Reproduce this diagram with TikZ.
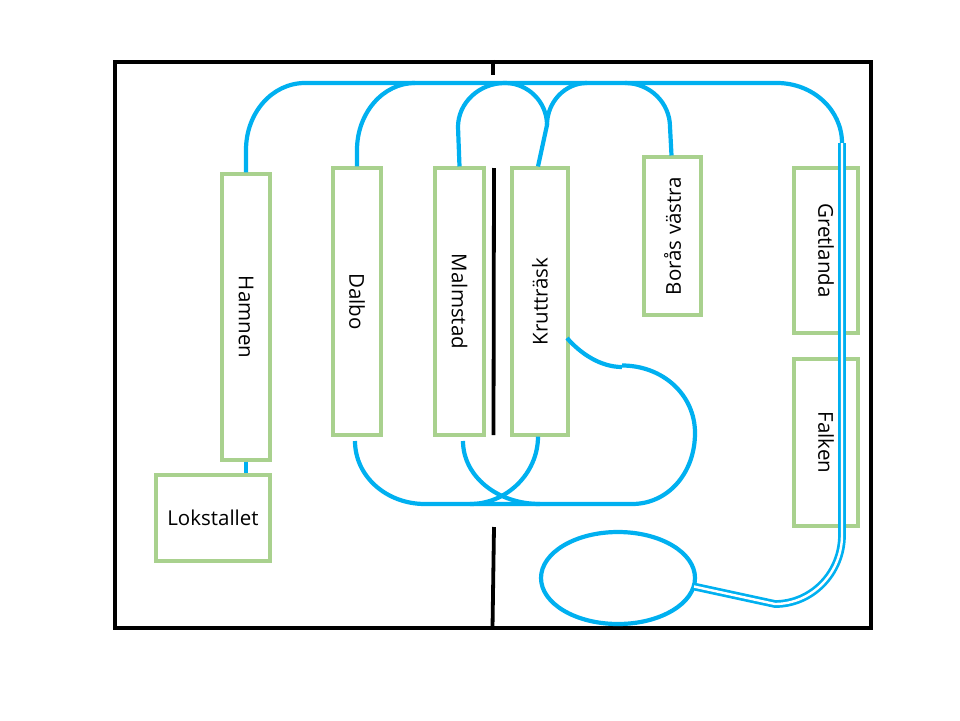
\documentclass[tikz,border=0pt]{standalone}
\usepackage{graphicx}
\usepackage{fontspec}
\usetikzlibrary{shapes.geometric}
\setmainfont{Open Sans}
\definecolor{trackblue}{HTML}{00B0F0}
\definecolor{stationgreen}{HTML}{A9D18E}
\tikzset{
  station/.style={draw=stationgreen,line width=3.1pt,fill=none,inner sep=0pt,font=\fontsize{20.5}{24}\selectfont,text=black},
  track/.style={draw=trackblue,line width=4.2pt},
  twin/.style={draw=trackblue,double=white,double distance=2.4pt,line width=2.7pt},
  wall/.style={draw=black,line width=3.8pt},
  frame/.style={draw=black,line width=4.4pt}
}
\newcommand{\downtext}[1]{\rotatebox{-90}{#1}}
\newcommand{\uptext}[1]{\rotatebox{90}{#1}}
\begin{document}
\begin{tikzpicture}[x=1pt,y=-1pt]
\useasboundingbox (0,0) rectangle (960,720);

% Outer frame of the layout
\node[frame,minimum width=756pt,minimum height=566pt,inner sep=0pt] (room) at (493,345) {};

% Dividing wall, in three pieces
\coordinate (wallA) at (493,75);
\coordinate (wallB1) at (494,168);
\coordinate (wallB2) at (493.5,435);
\coordinate (wallC) at (494,527);
\coordinate (wallD) at (492.5,628);
\draw[wall] (room.north -| wallA) -- (wallA);
\draw[wall] (wallB1) -- (wallB2);
\draw[wall] (wallC) -- (wallD);

% Stations
\node[station,minimum width=48pt,minimum height=286pt] (hamnen) at (246,317) {\downtext{Hamnen}};
\node[station,minimum width=48pt,minimum height=267pt] (dalbo) at (357,301.5) {\downtext{Dalbo}};
\node[station,minimum width=49pt,minimum height=267pt] (malmstad) at (459.5,301.5) {\downtext{Malmstad}};
\node[station,minimum width=56pt,minimum height=267pt] (krut) at (540,301.5) {\uptext{Krutträsk}};
\node[station,minimum width=57pt,minimum height=158pt] (boras) at (672.5,236) {\uptext{Borås västra}};
\node[station,minimum width=64pt,minimum height=165pt] (gret) at (826,250.5) {\downtext{Gretlanda}};
\node[station,minimum width=64pt,minimum height=167pt] (falken) at (826,442.5) {\downtext{Falken}};
\node[station,minimum width=114pt,minimum height=86pt] (lok) at (213,518) {Lokstallet};

% Turning loop in the lower right
\node[draw=trackblue,line width=4.2pt,ellipse,minimum width=154pt,minimum height=92pt,inner sep=0pt] (loop) at (618,578) {};

% Main line along the top
\coordinate (mainW) at (305,83);
\coordinate (mainE) at (777,83);
\coordinate (twinN) at (842,143);
\draw[track] (mainW) -- (mainE) .. controls (813,83) and (842,110) .. (twinN);

% Branches from the upper ends of the stations
\draw[track] (hamnen.north) -- (246,150) .. controls (246,113) and (272,83) .. (mainW);
\draw[track] (dalbo.north) -- (357,150) .. controls (357,113) and (383,83) .. (415,83);
\coordinate (junction) at (547,125);
\draw[track] (malmstad.north) -- (458,127) .. controls (458,103) and (479,83) .. (505,83)
  .. controls (528,83) and (547,102) .. (junction);
\draw[track] (krut.north) ++(-2,0) -- (junction) .. controls (547,102) and (565,83) .. (587,83);
\draw[track] (boras.north) ++(-1,0) -- (670,127) .. controls (670,103) and (650,83) .. (625,83);

% Link from Hamnen down to Lokstallet
\draw[track] (hamnen.south) -- (hamnen.south |- lok.north);

% Lower curves joined by the straight at the bottom
\coordinate (botW) at (425,504);
\coordinate (botE) at (632,504);
\coordinate (krutR) at (567,338);
\draw[track] (355,441) .. controls (355,476) and (386,504) .. (botW) -- (botE)
  .. controls (668,504) and (695,473) .. (695,433)
  .. controls (695,395) and (663,365.5) .. (622,365.5);
\draw[track] (622,367) .. controls (600,367) and (580,353) .. (krutR);
\draw[track] (463,441) .. controls (463,476) and (497,504) .. (540,504);
\draw[track] (krut.south) ++(-2,0) .. controls (538,473) and (507,504) .. (470,504);

% Double track from the main line round to the loop
\coordinate (bendW) at (775,604);
\draw[twin] (twinN) -- (842,535) .. controls (842,573) and (812,604) .. (bendW) -- (694,586.5);
\end{tikzpicture}
\end{document}
